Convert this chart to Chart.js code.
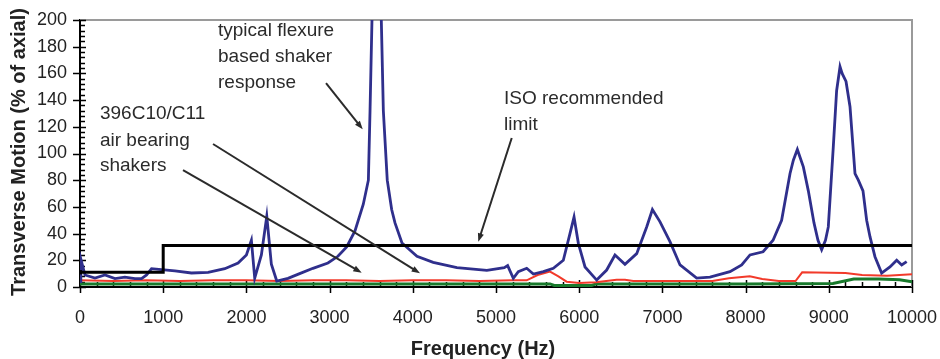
<html>
<head>
<meta charset="UTF-8">
<title>Transverse motion vs frequency</title>
<script src="https://cdn.jsdelivr.net/npm/chart.js@4.4.0/dist/chart.umd.min.js"></script>
<style>
body { margin: 0; background: #fff; }
</style>
</head>
<body>
<canvas id="myChart" width="940" height="359"></canvas>
<script>
// flexure based shaker (blue)
var blueHz  = [0, 10, 60, 180, 300, 420, 540, 660, 740, 800, 860, 980, 1140, 1340, 1540, 1740, 1900, 2000, 2060, 2100, 2180, 2245, 2300, 2365, 2500, 2640, 2800, 2980, 3100, 3205, 3305, 3405, 3466, 3486, 3530, 3600, 3646, 3693, 3746, 3786, 3870, 4050, 4245, 4530, 4890, 5100, 5140, 5208, 5268, 5369, 5449, 5569, 5689, 5809, 5889, 5938, 5990, 6070, 6210, 6330, 6430, 6550, 6691, 6811, 6880, 6970, 7091, 7212, 7412, 7572, 7812, 7953, 8053, 8210, 8330, 8433, 8534, 8574, 8622, 8694, 8754, 8822, 8870, 8914, 8960, 8994, 9054, 9094, 9135, 9160, 9207, 9255, 9315, 9355, 9411, 9455, 9495, 9555, 9635, 9735, 9816, 9876, 9936];
var bluePct = [4, 21, 9, 6.7, 9, 6.3, 7.4, 6.3, 6.3, 9, 13.7, 13, 12, 10.5, 11, 13.7, 18, 24, 35, 6.7, 24, 53, 17, 4.5, 6.5, 10, 14, 18, 23, 30, 42, 62, 80, 132, 260, 260, 132, 80, 58, 48, 33, 23, 18.5, 14.5, 12.5, 14.5, 16, 6.5, 11.5, 14, 9.7, 11.5, 14, 20, 40, 52.5, 32.7, 15, 5.2, 12.7, 24, 17, 25, 45, 58, 49, 34, 16.5, 6.7, 7.4, 11.5, 16.5, 24, 26.4, 35, 50, 85, 95, 103, 90, 72, 48, 35, 28, 35, 45, 105, 147, 165, 160, 154, 135, 85, 80, 72, 50, 37.7, 22.7, 10.4, 15, 20, 16.5, 19];

// 396C10/C11 air bearing shakers (red, green)
var redHz  = [0, 400, 800, 1200, 1600, 2000, 2400, 2800, 3200, 3600, 4000, 4400, 4800, 5200, 5369, 5500, 5649, 5750, 5849, 6000, 6200, 6450, 6550, 6650, 7000, 7400, 7600, 7800, 8050, 8200, 8400, 8600, 8680, 9200, 9400, 9700, 10000];
var redPct = [5, 4.5, 5, 4.5, 5, 5, 4.5, 5, 5, 4.5, 5, 5, 4.5, 5, 5, 9, 11.5, 8, 4, 3, 3.5, 5.5, 5.5, 4.5, 4.5, 4.5, 4.5, 6.5, 8, 6, 4.5, 4.5, 11, 10.5, 9, 8.5, 9.5];
var greenHz  = [0, 1000, 2000, 3000, 4000, 5000, 5650, 5700, 6150, 6200, 7000, 8000, 9050, 9300, 9600, 9850, 10000];
var greenPct = [2.3, 2.3, 2.3, 2.3, 2.3, 2.3, 2.3, 1.2, 1.2, 2.3, 2.3, 2.3, 2.6, 6, 6, 5.5, 4];

// ISO recommended limit (black step)
var isoHz  = [0, 1000, 1000, 10000];
var isoPct = [11, 11, 31, 31];

var xTicks = [0, 1000, 2000, 3000, 4000, 5000, 6000, 7000, 8000, 9000, 10000];
var yTicks = [0, 20, 40, 60, 80, 100, 120, 140, 160, 180, 200];

var fontFamily = "'Liberation Sans', Arial, sans-serif";

var fn_points = function(xs, ys){
	var out = [];
	for (var i = 0; i < xs.length; i++){
		out.push({x: xs[i], y: ys[i]});
	}
	return out;
};

// arrow annotations, in data units
var notes = [
	{lines: ["typical flexure", "based shaker", "response"], x: 1659, y: [188, 168.5, 149]},
	{lines: ["396C10/C11", "air bearing", "shakers"], x: 240, y: [125.8, 105.6, 86.9]},
	{lines: ["ISO recommended", "limit"], x: 5096, y: [137, 117.6]}
];
var arrows = [
	[2957, 152.8, 3398, 118.1],
	[1599, 107.1, 4087, 10.3],
	[1238, 87.6, 3386, 10.7],
	[5189, 111.6, 4787, 33.9]
];

var framePlugin = {
	id: 'frame',
	beforeDatasetsDraw: function(chart){
		var ctx = chart.ctx, a = chart.chartArea;
		var x = chart.scales.x, y = chart.scales.y;
		ctx.save();
		ctx.strokeStyle = '#9a9a9a';
		ctx.lineWidth = 2;
		ctx.beginPath();
		ctx.moveTo(a.left, a.top);
		ctx.lineTo(a.right, a.top);
		ctx.lineTo(a.right, a.bottom);
		ctx.stroke();

		ctx.strokeStyle = '#000';
		ctx.lineWidth = 1.5;
		ctx.beginPath();
		for (var v = 0; v <= 200; v += 4){
			var py = Math.round(y.getPixelForValue(v)) + 0.5;
			var major = (v % 20 === 0);
			ctx.moveTo(major ? a.left - 7 : a.left, py);
			ctx.lineTo(a.left + (major ? 6 : 5), py);
		}
		for (var f = 0; f <= 10000; f += 200){
			var px = Math.round(x.getPixelForValue(f)) + 0.5;
			var maj = (f % 1000 === 0);
			ctx.moveTo(px, a.bottom - (maj ? 7 : 5));
			ctx.lineTo(px, maj ? a.bottom + 6 : a.bottom);
		}
		ctx.stroke();
		ctx.restore();
	},
	afterDraw: function(chart){
		var ctx = chart.ctx;
		var x = chart.scales.x, y = chart.scales.y;
		ctx.save();
		ctx.fillStyle = '#2b2b2b';
		ctx.font = '19px ' + fontFamily;
		ctx.textBaseline = 'alphabetic';
		ctx.textAlign = 'left';
		notes.forEach(function(n){
			n.lines.forEach(function(t, i){
				ctx.fillText(t, x.getPixelForValue(n.x), y.getPixelForValue(n.y[i]));
			});
		});

		ctx.strokeStyle = '#2b2b2b';
		ctx.lineWidth = 2;
		arrows.forEach(function(r){
			var x1 = x.getPixelForValue(r[0]), y1 = y.getPixelForValue(r[1]);
			var x2 = x.getPixelForValue(r[2]), y2 = y.getPixelForValue(r[3]);
			var ang = Math.atan2(y2 - y1, x2 - x1);
			ctx.beginPath();
			ctx.moveTo(x1, y1);
			ctx.lineTo(x2 - 6 * Math.cos(ang), y2 - 6 * Math.sin(ang));
			ctx.stroke();
			ctx.beginPath();
			ctx.moveTo(x2, y2);
			ctx.lineTo(x2 - 9 * Math.cos(ang - 0.35), y2 - 9 * Math.sin(ang - 0.35));
			ctx.lineTo(x2 - 9 * Math.cos(ang + 0.35), y2 - 9 * Math.sin(ang + 0.35));
			ctx.closePath();
			ctx.fill();
		});

		// axis titles
		ctx.fillStyle = '#222';
		ctx.font = 'bold 20px ' + fontFamily;
		ctx.textAlign = 'center';
		ctx.textBaseline = 'middle';
		ctx.fillText('Frequency (Hz)', 483, 349);
		ctx.translate(19, 152);
		ctx.rotate(-Math.PI / 2);
		ctx.fillText('Transverse Motion (% of axial)', 0, 0);
		ctx.restore();
	}
};

var tickFont = {family: fontFamily, size: 18};
var plainLabel = function(v){ return String(v); };

var chart = new Chart(document.getElementById('myChart'), {
	type: 'line',
	data: {
		datasets: [
			{data: fn_points(isoHz, isoPct), borderColor: '#000', borderWidth: 3, order: 0,
			 pointRadius: [3, 0, 0, 0], pointStyle: 'rect', pointBackgroundColor: '#000', pointBorderWidth: 0},
			{data: fn_points(blueHz, bluePct), borderColor: '#2f2f8c', borderWidth: 2.8, order: 1},
			{data: fn_points(redHz, redPct), borderColor: '#f23a2a', borderWidth: 2, order: 2},
			{data: fn_points(greenHz, greenPct), borderColor: '#187a2c', borderWidth: 3, order: 3}
		]
	},
	options: {
		responsive: false,
		animation: false,
		layout: {padding: {top: 20, right: 28, left: 0, bottom: 0}},
		elements: {point: {radius: 0}, line: {tension: 0}},
		plugins: {legend: {display: false}, tooltip: {enabled: false}},
		scales: {
			x: {
				type: 'linear', min: 0, max: 10000,
				afterBuildTicks: function(s){ s.ticks = xTicks.map(function(v){ return {value: v}; }); },
				afterFit: function(s){ s.height = 72; s.paddingLeft = 0; s.paddingRight = 0; },
				ticks: {color: '#222', font: tickFont, padding: 20, maxRotation: 0, autoSkip: false, callback: plainLabel},
				grid: {display: false, drawTicks: false},
				border: {display: true, color: '#000', width: 2}
			},
			y: {
				type: 'linear', min: 0, max: 200,
				afterBuildTicks: function(s){ s.ticks = yTicks.map(function(v){ return {value: v}; }); },
				afterFit: function(s){ s.width = 80; s.paddingTop = 0; s.paddingBottom = 0; },
				ticks: {color: '#222', font: tickFont, padding: 13, callback: plainLabel},
				grid: {display: false, drawTicks: false},
				border: {display: true, color: '#000', width: 2}
			}
		}
	},
	plugins: [framePlugin]
});
</script>
</body>
</html>
